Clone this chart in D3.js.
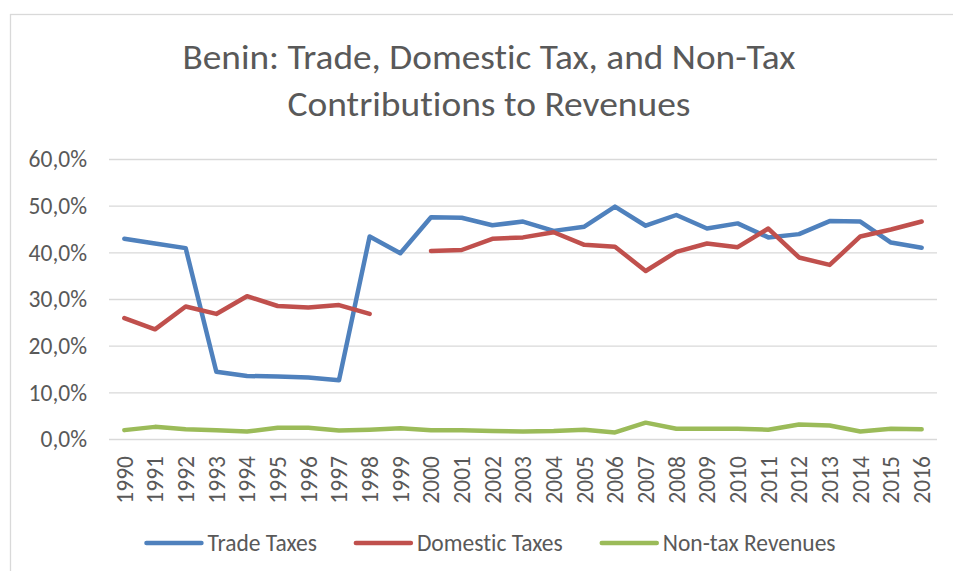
<!DOCTYPE html>
<html>
<head>
<meta charset="utf-8">
<script src="https://cdn.jsdelivr.net/npm/d3@7"></script>
<style>
  body { margin: 0; background: #fff; }
  svg text { font-family: Carlito, Calibri, "Liberation Sans Narrow", "Open Sans", sans-serif; fill: #595959; font-variant-ligatures: none; }
</style>
</head>
<body>
<div id="chart"></div>
<script>
const years = ["1990", "1991", "1992", "1993", "1994", "1995", "1996", "1997", "1998", "1999",
  "2000", "2001", "2002", "2003", "2004", "2005", "2006", "2007", "2008", "2009",
  "2010", "2011", "2012", "2013", "2014", "2015", "2016"];
const tradeTaxes = [42.9, 41.9, 40.9, 14.4, 13.5, 13.4, 13.2, 12.6, 43.4, 39.8,
  47.5, 47.4, 45.8, 46.6, 44.6, 45.5, 49.8, 45.7, 48.0, 45.1,
  46.2, 43.2, 43.9, 46.7, 46.6, 42.1, 41.0];
const domesticTaxes = [25.9, 23.5, 28.4, 26.8, 30.6, 28.5, 28.2, 28.7, 26.8, null,
  40.3, 40.5, 42.9, 43.2, 44.3, 41.6, 41.2, 36.0, 40.1, 41.9,
  41.1, 45.1, 38.9, 37.3, 43.4, 44.9, 46.6];
const nonTaxRevenues = [1.9, 2.6, 2.1, 1.9, 1.6, 2.4, 2.4, 1.8, 2.0, 2.3,
  1.9, 1.9, 1.7, 1.6, 1.7, 2.0, 1.4, 3.5, 2.2, 2.2,
  2.2, 2.0, 3.1, 2.9, 1.6, 2.2, 2.1];
const yTicks = [0, 10, 20, 30, 40, 50, 60];
const seriesNames = ["Trade Taxes", "Domestic Taxes", "Non-tax Revenues"];
const seriesColors = ["#4F81BD", "#C0504D", "#9BBB59"];
const titleLines = ["Benin: Trade, Domestic Tax, and Non-Tax", "Contributions to Revenues"];

const width = 953;
const height = 571;
const margin = { top: 159, right: 16, bottom: 132, left: 109 };
const innerW = width - margin.left - margin.right;
const innerH = height - margin.top - margin.bottom;

const locale = d3.formatLocale({ decimal: ",", thousands: ".", grouping: [3], currency: ["", ""] });
const fmt = locale.format(".1f");

const svg = d3.select("#chart")
  .append("svg")
  .attr("width", width)
  .attr("height", height);

// chart frame
svg.append("rect")
  .attr("x", 10.5)
  .attr("y", 14.5)
  .attr("width", 980)
  .attr("height", 600)
  .attr("fill", "none")
  .attr("stroke", "#D9D9D9")
  .attr("stroke-width", 1.3);

// title, fitted to the reference width
const titleWidths = [613, 403];
svg.append("g")
  .selectAll("text")
  .data(titleLines)
  .enter()
  .append("text")
  .attr("x", function(d, i) { return 489 - titleWidths[i] / 2; })
  .attr("y", function(d, i) { return 69 + i * 47; })
  .attr("font-size", 35)
  .attr("textLength", function(d, i) { return titleWidths[i]; })
  .attr("lengthAdjust", "spacingAndGlyphs")
  .text(function(d) { return d; });

const g = svg.append("g")
  .attr("transform", "translate(" + margin.left + "," + margin.top + ")");

const x = d3.scalePoint()
  .domain(years)
  .range([0, innerW])
  .padding(0.5);

const y = d3.scaleLinear()
  .domain([0, 60])
  .range([innerH, 0]);

const yAxis = g.append("g")
  .call(d3.axisLeft(y)
    .tickValues(yTicks)
    .tickSize(-innerW)
    .tickPadding(22)
    .tickFormat(function(d) { return fmt(d) + "%"; }));
yAxis.select(".domain").remove();
yAxis.selectAll(".tick line")
  .attr("stroke", "#D9D9D9")
  .attr("stroke-width", 1.3);
yAxis.selectAll(".tick text")
  .attr("font-size", 23.5)
  .attr("dy", "0.33em");

const xAxis = g.append("g")
  .attr("transform", "translate(0," + innerH + ")")
  .call(d3.axisBottom(x).tickSize(0));
xAxis.select(".domain").remove();
xAxis.selectAll(".tick text")
  .attr("font-size", 23.5)
  .attr("text-anchor", "end")
  .attr("transform", "rotate(-90)")
  .attr("x", -17)
  .attr("y", 0)
  .attr("dy", "0.33em");

const seriesValues = [tradeTaxes, domesticTaxes, nonTaxRevenues];

const line = d3.line()
  .defined(function(d) { return d.v !== null; })
  .x(function(d) { return x(d.year); })
  .y(function(d) { return y(d.v); });

seriesValues.forEach(function(vals, i) {
  const pts = years.map(function(yr, j) { return { year: yr, v: vals[j] }; });
  g.append("path")
    .datum(pts)
    .attr("fill", "none")
    .attr("stroke", seriesColors[i])
    .attr("stroke-width", 4.5)
    .attr("stroke-linecap", "round")
    .attr("stroke-linejoin", "round")
    .attr("d", line);
});

// legend
const legend = svg.append("g").attr("transform", "translate(0,543)");
const items = legend.selectAll(".item")
  .data(seriesNames)
  .enter()
  .append("g")
  .attr("class", "item");

items.append("line")
  .attr("x1", 0)
  .attr("x2", 55)
  .attr("stroke", function(d, i) { return seriesColors[i]; })
  .attr("stroke-width", 4.5)
  .attr("stroke-linecap", "round");

items.append("text")
  .attr("x", 61)
  .attr("dy", "0.33em")
  .attr("font-size", 23.5)
  .text(function(d) { return d; });

let widths = [];
items.each(function() {
  widths.push(61 + d3.select(this).select("text").node().getComputedTextLength());
});
const gap = 39;
const total = d3.sum(widths) + gap * (widths.length - 1);
let pos = 491 - total / 2;
items.attr("transform", function(d, i) {
  const t = "translate(" + pos + ",0)";
  pos += widths[i] + gap;
  return t;
});
</script>
</body>
</html>
